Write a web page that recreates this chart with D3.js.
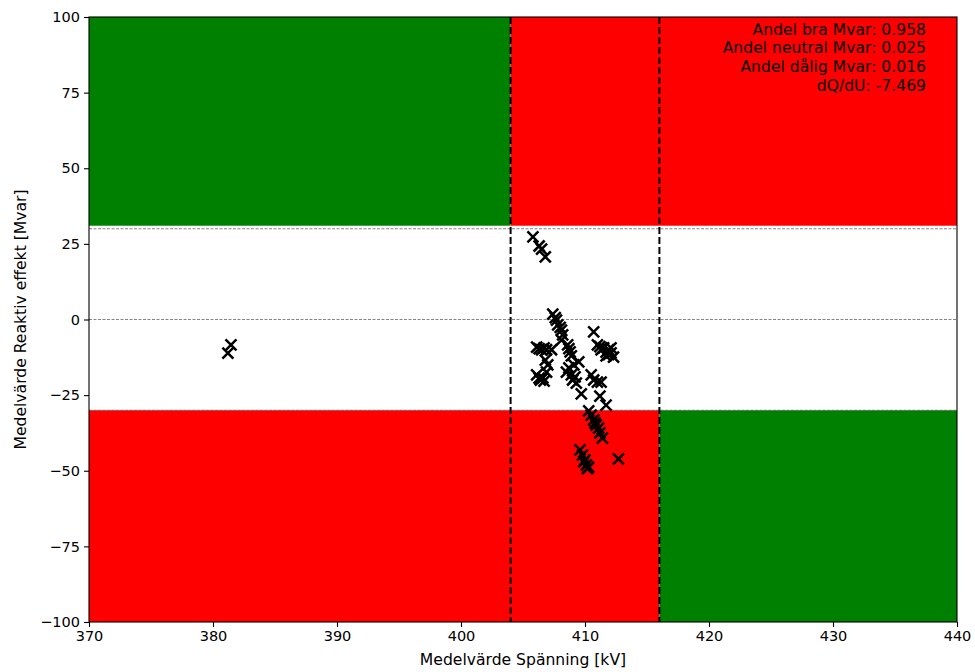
<!DOCTYPE html>
<html>
<head>
<meta charset="utf-8">
<script src="https://cdn.jsdelivr.net/npm/d3@7"></script>
<style>
  body { margin: 0; background: #fff; }
  text { font-family: "DejaVu Sans", sans-serif; }
</style>
</head>
<body>
<div class="chart"></div>
<script>
// scatter of mean voltage vs mean reactive power, with good/bad zones

var svgWidth = 975;
var svgHeight = 672;

var margin = { top: 17, right: 18, bottom: 50, left: 89 };

var width = svgWidth - margin.left - margin.right;
var height = svgHeight - margin.top - margin.bottom;

// data
var voltage = [381.2, 381.45,
  405.8, 406.3, 406.5, 406.8,
  407.4, 407.6, 407.7, 407.8, 408.0, 408.1, 408.2, 408.1,
  406.1, 406.3, 406.5, 406.7, 406.9, 407.3, 406.1, 406.3, 406.4, 406.6, 406.9, 407.0, 406.8, 406.7,
  408.6, 408.7, 408.8, 408.9, 409.1, 408.9, 409.0, 409.3, 408.7, 408.5, 409.5, 409.2,
  410.7, 411.0, 411.2, 411.3, 411.5, 411.7, 411.9, 412.1, 411.7, 412.3, 412.1, 411.9,
  410.5, 410.7, 411.0, 411.3, 409.7, 411.2, 411.7,
  410.3, 410.5, 410.7, 410.8, 410.9, 411.1, 411.2, 411.4,
  409.6, 409.8, 410.0, 410.1, 410.3, 409.9, 410.2, 412.7];
var mvar = [-11.1, -8.4,
  27.3, 24.3, 23.3, 20.7,
  1.8, 0.6, -0.2, -1.8, -2.6, -3.5, -5.1, -6.8,
  -9.1, -9.6, -10.0, -9.4, -10.0, -10.0, -18.3, -19.4, -20.0, -19.3, -17.4, -15.0, -13.4, -20.4,
  -8.4, -9.6, -10.7, -12.0, -15.0, -18.3, -20.0, -21.0, -16.0, -17.4, -14.0, -19.0,
  -4.1, -8.4, -9.0, -10.0, -9.4, -10.8, -10.0, -11.0, -12.0, -12.4, -9.4, -11.6,
  -18.3, -20.0, -20.7, -20.7, -24.6, -25.3, -28.3,
  -30.2, -31.6, -33.2, -34.2, -34.9, -35.9, -37.5, -39.2,
  -43.1, -44.8, -46.4, -48.1, -48.8, -47.0, -49.3, -46.1];

var voltLimits = [404, 416];
var mvarLimits = [-30, 30];
var xTicks = [370, 380, 390, 400, 410, 420, 430, 440];
var yTicks = [-100, -75, -50, -25, 0, 25, 50, 75, 100];
var infoLines = ["Andel bra Mvar: 0.958", "Andel neutral Mvar: 0.025",
  "Andel dålig Mvar: 0.016", "dQ/dU: -7.469"];

var svg = d3.select(".chart")
  .append("svg")
  .attr("width", svgWidth)
  .attr("height", svgHeight);

var chartGroup = svg.append("g")
  .attr("transform", `translate(${margin.left}, ${margin.top})`);

var x = d3.scaleLinear().domain([370, 440]).range([0, width]);
var y = d3.scaleLinear().domain([-100, 100]).range([height, 0]);

// zones: [x0, x1, y0, y1, colour]
var zones = [
  [370, voltLimits[0], 31, 100, "#008000"],
  [voltLimits[0], 440, 31, 100, "#ff0000"],
  [370, voltLimits[1], -100, mvarLimits[0], "#ff0000"],
  [voltLimits[1], 440, -100, mvarLimits[0], "#008000"]
];
chartGroup.selectAll("rect.zone")
  .data(zones)
  .enter()
  .append("rect")
  .attr("class", "zone")
  .attr("x", d => x(d[0]))
  .attr("width", d => x(d[1]) - x(d[0]))
  .attr("y", d => y(d[3]))
  .attr("height", d => y(d[2]) - y(d[3]))
  .attr("fill", d => d[4]);

// horizontal dashed helper lines
chartGroup.selectAll("line.hline")
  .data([mvarLimits[0], 0, mvarLimits[1]])
  .enter()
  .append("line")
  .attr("x1", 0)
  .attr("x2", width)
  .attr("y1", d => y(d))
  .attr("y2", d => y(d))
  .attr("stroke", "#666")
  .attr("stroke-width", 0.8)
  .attr("stroke-dasharray", "3,1.5");

// vertical voltage limits
chartGroup.selectAll("line.vline")
  .data(voltLimits)
  .enter()
  .append("line")
  .attr("x1", d => x(d))
  .attr("x2", d => x(d))
  .attr("y1", 0)
  .attr("y2", height)
  .attr("stroke", "black")
  .attr("stroke-width", 2)
  .attr("stroke-dasharray", "7,3");

// x markers
var pts = voltage.map((v, i) => [v, mvar[i]]);
var s = 5.5;
chartGroup.selectAll("path.pt")
  .data(pts)
  .enter()
  .append("path")
  .attr("d", d => {
    var cx = x(d[0]), cy = y(d[1]);
    return `M${cx - s},${cy - s}L${cx + s},${cy + s}M${cx - s},${cy + s}L${cx + s},${cy - s}`;
  })
  .attr("stroke", "black")
  .attr("stroke-width", 2.5)
  .attr("fill", "none");

// axes
var fmt = d => d < 0 ? "\u2212" + Math.abs(d) : d;
var bottomAxis = d3.axisBottom(x).tickValues(xTicks).tickSizeOuter(0).tickSize(5).tickPadding(4).tickFormat(fmt);
var leftAxis = d3.axisLeft(y).tickValues(yTicks).tickSizeOuter(0).tickSize(5).tickPadding(4).tickFormat(fmt);

var xAxisG = chartGroup.append("g")
  .attr("transform", `translate(0, ${height})`)
  .call(bottomAxis);
var yAxisG = chartGroup.append("g")
  .call(leftAxis);

[xAxisG, yAxisG].forEach(g => {
  g.select(".domain").remove();
  g.selectAll("text").attr("font-size", 14.5).attr("fill", "black")
    .style("font-family", "DejaVu Sans, sans-serif");
  g.selectAll("line").attr("stroke", "black").attr("stroke-width", 1.1);
});

// frame
chartGroup.append("rect")
  .attr("width", width)
  .attr("height", height)
  .attr("fill", "none")
  .attr("stroke", "black")
  .attr("stroke-width", 1.1);

// info text top right
chartGroup.append("g")
  .selectAll("text")
  .data(infoLines)
  .enter()
  .append("text")
  .attr("x", width - 31)
  .attr("y", (d, i) => 17.5 + i * 18.7)
  .attr("text-anchor", "end")
  .attr("font-size", 15.6)
  .text(d => d);

// axis labels
chartGroup.append("text")
  .attr("x", width / 2)
  .attr("y", height + 43)
  .attr("text-anchor", "middle")
  .attr("font-size", 15.6)
  .text("Medelvärde Spänning [kV]");

chartGroup.append("text")
  .attr("transform", "rotate(-90)")
  .attr("x", -height / 2)
  .attr("y", -margin.left + 26)
  .attr("text-anchor", "middle")
  .attr("font-size", 15.6)
  .text("Medelvärde Reaktiv effekt [Mvar]");
</script>
</body>
</html>
